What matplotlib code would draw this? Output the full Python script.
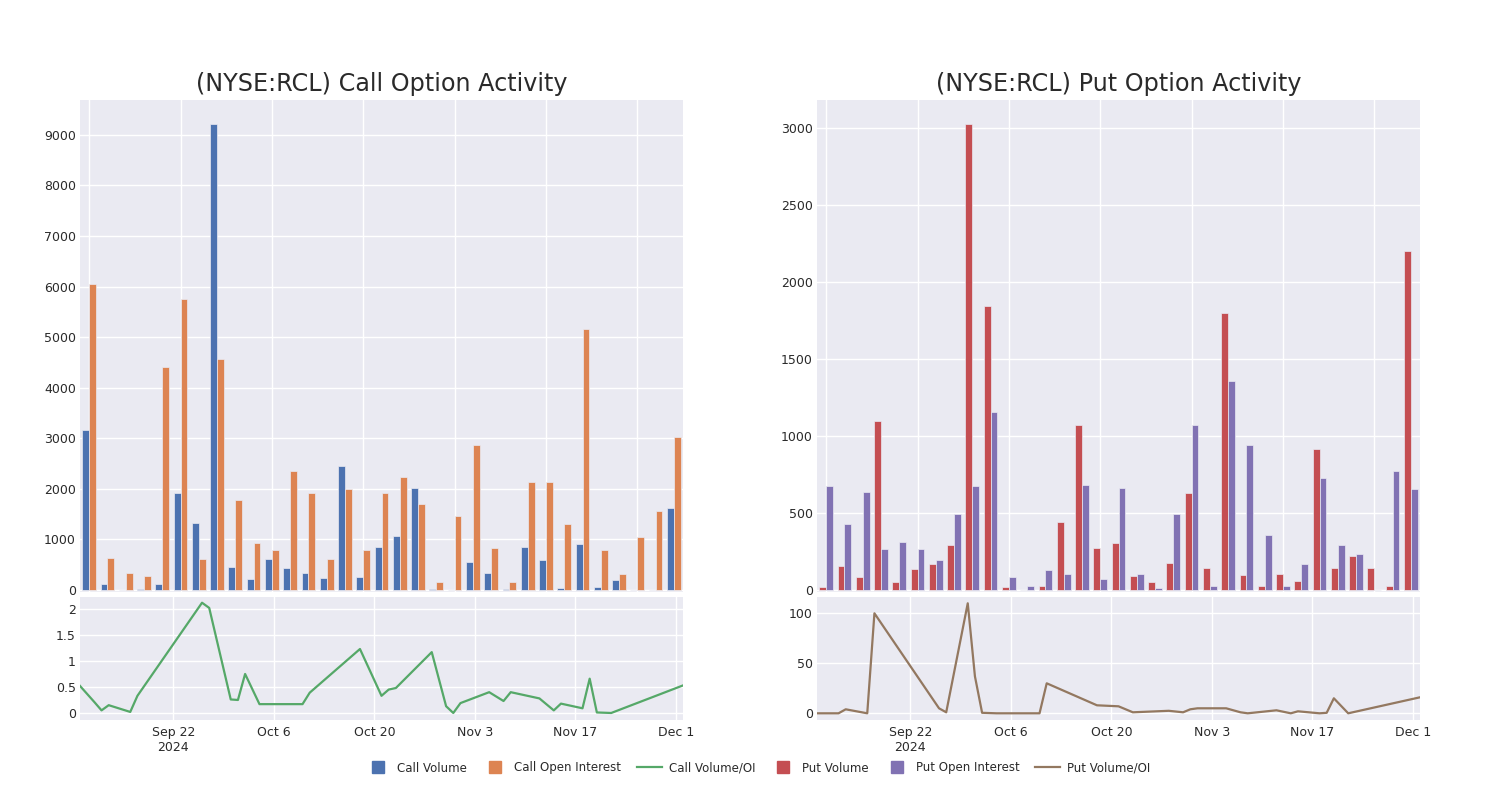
import numpy as np
import pandas as pd
import matplotlib
matplotlib.use('Agg')
import matplotlib.pyplot as plt
from matplotlib.lines import Line2D

plt.rcParams['font.family'] = ['DejaVu Sans']

# 数据
dates = pd.to_datetime([
    '2024-09-09', '2024-09-11', '2024-09-12', '2024-09-13', '2024-09-16',
    '2024-09-17', '2024-09-26', '2024-09-27', '2024-09-30', '2024-10-01',
    '2024-10-02', '2024-10-04', '2024-10-10', '2024-10-11', '2024-10-18',
    '2024-10-21', '2024-10-22', '2024-10-23', '2024-10-28', '2024-10-30',
    '2024-10-31', '2024-11-01', '2024-11-05', '2024-11-07', '2024-11-08',
    '2024-11-12', '2024-11-14', '2024-11-15', '2024-11-18', '2024-11-19',
    '2024-11-20', '2024-11-22', '2024-12-02'])

call_volume = [3170, 115, 10, 30, 115, 1915, 1335, 9210, 465, 220,
               610, 430, 335, 230, 2455, 260, 860, 1070, 2010, 13,
               5, 545, 330, 26, 855, 595, 50, 915, 55, 200,
               5, 3, 1615]
call_oi = [6050, 640, 330, 285, 4420, 5750, 620, 4560, 1780, 940,
           800, 2360, 1920, 615, 2000, 790, 1920, 2245, 1710, 165,
           1465, 2865, 830, 165, 2145, 2130, 1310, 5155, 785, 310,
           1055, 1570, 3025]
call_ratio = [0.52, 0.21, 0.05, 0.15, 0.02, 0.33, 2.12, 2.02, 0.26, 0.25,
              0.75, 0.17, 0.17, 0.39, 1.23, 0.33, 0.45, 0.48, 1.17, 0.13,
              0.0, 0.19, 0.40, 0.23, 0.40, 0.28, 0.05, 0.18, 0.09, 0.66,
              0.01, 0.0, 0.53]

put_volume = [22, 154, 84, 1095, 50, 134, 167, 292, 3024, 1844,
              17, 2, 28, 444, 1074, 271, 306, 93, 50, 173,
              628, 145, 1799, 97, 28, 102, 58, 913, 145, 221,
              145, 28, 2203]
put_oi = [675, 429, 634, 266, 310, 266, 193, 494, 675, 1156,
          87, 28, 132, 104, 682, 69, 665, 102, 15, 496,
          1074, 26, 1359, 944, 359, 28, 169, 725, 294, 232,
          2, 771, 656]
put_ratio = [0, 0, 0, 4, 0, 100, 5, 1, 110, 37,
             0.5, 0, 0, 30, 8, 7, 4, 1, 2.5, 1,
             4, 5, 5, 1, 0, 3, 0, 2, 0, 0.5,
             15, 0, 16]

date_ticks = pd.to_datetime(['2024-09-22', '2024-10-06', '2024-10-20',
                             '2024-11-03', '2024-11-17', '2024-12-01'])
date_labels = ['Sep 22\n2024', 'Oct 6', 'Oct 20', 'Nov 3', 'Nov 17', 'Dec 1']

BG = '#EAEAF2'
TXT = '#2a2a2a'
colors = {'cv': '#4C72B0', 'coi': '#DD8452', 'cr': '#55A868',
          'pv': '#C44E52', 'poi': '#8172B3', 'pr': '#937860'}

W, H = 1500, 800
fig = plt.figure(figsize=(15, 8), dpi=100)


def style_ax(ax):
    ax.set_facecolor(BG)
    for s in ax.spines.values():
        s.set_visible(False)
    ax.grid(True, color='white', linewidth=1.0)
    ax.set_axisbelow(True)
    ax.tick_params(length=0, labelsize=9, colors=TXT, pad=3)


def draw_side(x0, vol, oi, ratio, c1, c2, c3, title, ytop, yticks, rlim, rticks, rlabels):
    ax1 = fig.add_axes([x0 / W, 1 - 592 / H, 603 / W, 492 / H])
    ax2 = fig.add_axes([x0 / W, 1 - 720 / H, 603 / W, 123 / H])
    style_ax(ax1)
    style_ax(ax2)

    x = np.arange(len(vol))
    bw = 0.375
    ax1.bar(x - bw / 2, vol, bw, color=c1, edgecolor=BG, linewidth=0.5)
    ax1.bar(x + bw / 2, oi, bw, color=c2, edgecolor=BG, linewidth=0.5)
    ax1.set_xlim(-0.5, len(vol) - 0.5)
    ax1.set_ylim(-ytop * 0.004, ytop)
    ax1.set_xticks(np.arange(0, len(vol), 5))
    ax1.set_xticklabels([])
    ax1.set_yticks(yticks)

    ax2.plot(dates, ratio, color=c3, linewidth=1.6)
    ax2.set_xlim(pd.Timestamp('2024-09-09'), pd.Timestamp('2024-12-02'))
    ax2.set_ylim(*rlim)
    ax2.set_yticks(rticks)
    ax2.set_yticklabels(rlabels)
    ax2.set_xticks(date_ticks)
    ax2.set_xticklabels(date_labels)
    ax2.tick_params(axis='x', pad=4)

    fig.text((x0 + 301.5) / W, 1 - 84 / H, title, ha='center', va='center',
             fontsize=17.2, color=TXT)


draw_side(80, call_volume, call_oi, call_ratio, colors['cv'], colors['coi'], colors['cr'],
          '(NYSE:RCL) Call Option Activity', 9690, range(0, 9001, 1000),
          (-0.135, 2.23), [0, 0.5, 1, 1.5, 2], ['0', '0.5', '1', '1.5', '2'])
draw_side(817, put_volume, put_oi, put_ratio, colors['pv'], colors['poi'], colors['pr'],
          '(NYSE:RCL) Put Option Activity', 3182, range(0, 3001, 500),
          (-6.7, 116.3), [0, 50, 100], ['0', '50', '100'])


def sq(c, lab):
    return Line2D([0], [0], linestyle='none', marker='s', markersize=9,
                  markerfacecolor=c, markeredgecolor=c, label=lab)


handles = [
    sq(colors['cv'], 'Call Volume'),
    sq(colors['coi'], 'Call Open Interest'),
    Line2D([0], [0], color=colors['cr'], linewidth=1.6, label='Call Volume/OI'),
    sq(colors['pv'], 'Put Volume'),
    sq(colors['poi'], 'Put Open Interest'),
    Line2D([0], [0], color=colors['pr'], linewidth=1.6, label='Put Volume/OI'),
]
fig.legend(handles=handles, loc='center', bbox_to_anchor=(758 / W, 1 - 768 / H),
           ncol=6, frameon=False, fontsize=8.5, handlelength=2.1,
           columnspacing=1.3, handletextpad=0.6, labelcolor=TXT)

fig.savefig('out.png', dpi=100, facecolor='white')
